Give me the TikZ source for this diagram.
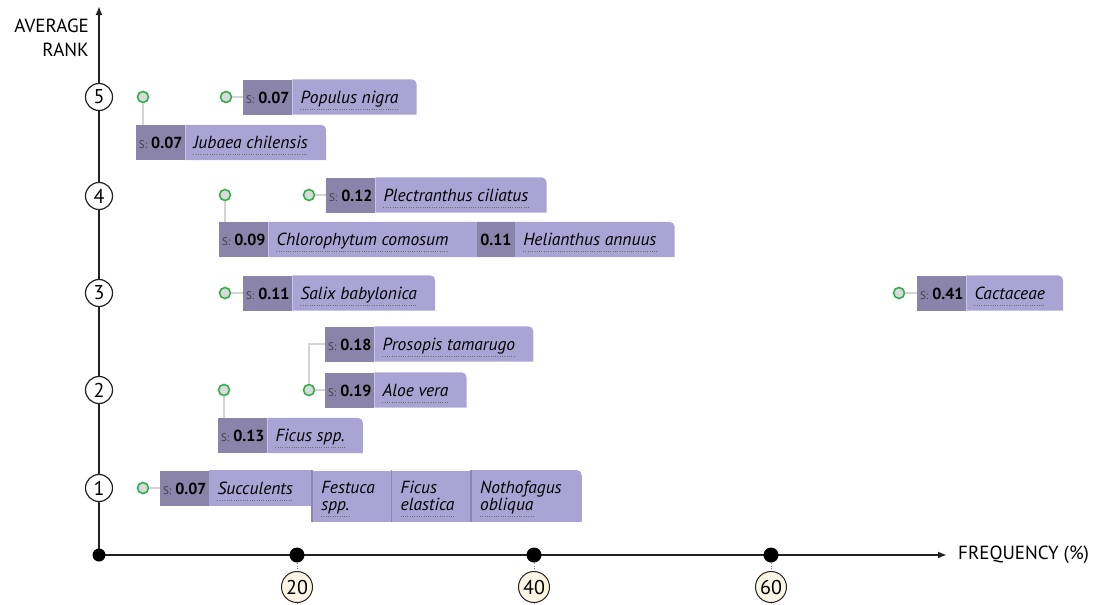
\documentclass[tikz,border=0pt]{standalone}
\usepackage{fontspec}
\setmainfont{PT Sans}
\usetikzlibrary{positioning,calc,backgrounds,arrows.meta}

\definecolor{valfill}{HTML}{8A84AA}
\definecolor{namefill}{HTML}{AAA4D4}
\definecolor{divline}{HTML}{8C86B4}
\definecolor{pingreen}{HTML}{2EAE4C}
\definecolor{pingray}{HTML}{DADADA}
\definecolor{linkgray}{HTML}{D4D4D4}
\definecolor{cream}{HTML}{FDF5E4}
\definecolor{dotgray}{HTML}{6E6E6E}
\definecolor{axisgray}{HTML}{222222}

\newcommand{\sval}[1]{{\fontsize{11}{11}\selectfont\mdseries\color{darkgray}S:}\hspace{4pt}#1}
% light part of a tag, top right corner rounded
\newcommand{\tagfill}[3]{\fill[namefill] (#1.south east) |- ($(#2.east |- #1.north)+(#3-5,0)$) arc[start angle=90,end angle=0,radius=5] |- (#1.south east) -- cycle;}

\begin{document}
\begin{tikzpicture}[x=1pt,y=1pt]
\tikzstyle{axisline} = [draw=axisgray, line width=1.8pt]
\tikzstyle{valbox} = [rectangle, fill=valfill, minimum width=49pt, minimum height=35pt, inner sep=0pt, text height=14pt, text depth=2pt, font=\fontsize{16}{16}\selectfont\bfseries]
\tikzstyle{namebox} = [rectangle, inner sep=0pt, text height=14pt, text depth=2pt, font=\fontsize{17.5}{17.5}\selectfont\itshape]
\tikzstyle{colbox} = [rectangle, fill=namefill, anchor=north west, minimum height=51pt, inner sep=0pt]
\tikzstyle{linetext} = [anchor=base west, inner sep=0pt, font=\fontsize{17.5}{17.5}\selectfont\itshape]
\tikzstyle{dotline} = [draw=dotgray, line width=0.8pt, dash pattern=on 1pt off 1.3pt]
\tikzstyle{pinmark} = [circle, draw=pingreen, fill=pingray, line width=1.6pt, minimum size=11pt, inner sep=0pt]
\tikzstyle{link} = [draw=linkgray, line width=2pt]
\tikzstyle{rank} = [circle, draw=axisgray, fill=white, line width=1.2pt, minimum size=27pt, inner sep=0pt, font=\fontsize{20}{20}\selectfont]
\tikzstyle{tickdot} = [circle, fill=black, minimum size=15pt, inner sep=0pt]
\tikzstyle{pct} = [circle, draw=axisgray, fill=cream, line width=1pt, minimum size=31pt, inner sep=0pt, font=\fontsize{20}{20}\selectfont]
\tikzstyle{tickline} = [draw=gray, dotted, line width=0.8pt]
\tikzstyle{divider} = [draw=divline, line width=1.5pt]

\useasboundingbox (0,0) rectangle (1101,-605);

% axes
\coordinate (O) at (99,-555);
\coordinate (ytop) at (99,-6);
\coordinate (xend) at (947,-555);
\draw[axisline,-{Latex[length=9pt,width=7pt]}] (O) -- (ytop);
\draw[axisline,-{Latex[length=9pt,width=7pt]}] (O) -- (xend);
\node[circle, fill=black, minimum size=13pt, inner sep=0pt] (o) at (O) {};
\node[align=right, anchor=north east, inner sep=0pt, font=\fontsize{19}{24}\selectfont] (ylab) at (89,-19) {AVERAGE\\RANK};
\node[anchor=base west, inner sep=0pt, font=\fontsize{19}{19}\selectfont] (xlab) at (958,-559) {FREQUENCY (\%)};

\foreach \r/\y in {1/488, 2/390, 3/293, 4/196, 5/97}
  \node[rank] (r\r) at (99,-\y) {\r};

\foreach \v/\x in {20/297, 40/534, 60/771} {
  \node[tickdot] (t\v) at (\x,-555) {};
  \node[pct] (p\v) at (\x,-587) {\v};
  \coordinate (e\v) at (\x,-605);
  \draw[tickline] (t\v) -- (p\v);
  \draw[tickline] (p\v) -- (e\v);
}

% rank 5
\node[valbox, anchor=west] (popv) at (243,-97) {\sval{0.07}};
\node[namebox, right=8pt of popv] (pop) {Populus nigra};
\node[valbox, anchor=west] (jubv) at (136,-142.5) {\sval{0.07}};
\node[namebox, right=8pt of jubv] (jub) {Jubaea chilensis};
\node[pinmark] (popp) at (226,-97) {};
\node[pinmark] (jubp) at (143,-97) {};
\draw[link] (popp) -- (popv.west);
\draw[link] (jubp) -- (jubp |- jubv.north);

% rank 4
\node[valbox, anchor=west] (plev) at (326,-195) {\sval{0.12}};
\node[namebox, right=8pt of plev] (ple) {Plectranthus ciliatus};
\node[valbox, anchor=west] (chlv) at (219,-239.5) {\sval{0.09}};
\node[namebox, right=8pt of chlv] (chl) {Chlorophytum comosum};
\node[valbox, minimum width=38pt, right=28pt of chl] (helv) {0.11};
\node[namebox, right=8pt of helv] (hel) {Helianthus annuus};
\node[pinmark] (plep) at (309,-195) {};
\node[pinmark] (chlp) at (225,-195) {};
\draw[link] (plep) -- (plev.west);
\draw[link] (chlp) -- (chlp |- chlv.north);

% rank 3
\node[valbox, anchor=west] (salv) at (243,-293) {\sval{0.11}};
\node[namebox, right=8pt of salv] (sal) {Salix babylonica};
\node[valbox, anchor=west] (cacv) at (917,-293) {\sval{0.41}};
\node[namebox, right=8pt of cacv] (cac) {Cactaceae};
\node[pinmark] (salp) at (225,-293) {};
\node[pinmark] (cacp) at (899,-293) {};
\draw[link] (salp) -- (salv.west);
\draw[link] (cacp) -- (cacv.west);

% rank 2
\node[valbox, anchor=west] (prov) at (325,-344) {\sval{0.18}};
\node[namebox, right=8pt of prov] (pro) {Prosopis tamarugo};
\node[valbox, anchor=west] (alov) at (325,-390) {\sval{0.19}};
\node[namebox, right=8pt of alov] (alo) {Aloe vera};
\node[valbox, anchor=west] (ficv) at (218,-435.5) {\sval{0.13}};
\node[namebox, right=8pt of ficv] (fic) {Ficus spp.};
\node[pinmark] (alop) at (309,-390) {};
\node[pinmark] (ficp) at (224,-390) {};
\draw[link] (alop) -- (alov.west);
\draw[link] (alop) |- (prov.west);
\draw[link] (ficp) -- (ficp |- ficv.north);

% rank 1
\node[valbox, anchor=west] (sucv) at (160,-488) {\sval{0.07}};
\node[namebox, right=8pt of sucv] (suc) {Succulents};
\node[colbox, minimum width=79pt] (fes) at ($(suc.east |- sucv.north)+(19,0)$) {};
\node[colbox, minimum width=79pt, right=0pt of fes] (fic2) {};
\node[colbox, minimum width=110pt, fill=none, right=0pt of fic2] (noth) {};
\foreach \c/\a/\b in {fes/Festuca/spp., fic2/Ficus/elastica, noth/Nothofagus/obliqua} {
  \node[linetext] (\c a) at ($(\c.north west)+(9,-23)$) {\a};
  \node[linetext] (\c b) at ($(\c.north west)+(9,-40)$) {\b};
  \draw[divider] (\c.north west) -- (\c.south west);
}
\node[pinmark] (sucp) at (143,-488) {};
\draw[link] (sucp) -- (sucv.west);

% dotted underlines
\foreach \n in {pop,jub,ple,chl,hel,sal,cac,pro,alo,fic,suc,fesb,fic2b,nothb}
  \draw[dotline] ([yshift=-6pt]\n.base west) -- ([yshift=-6pt]\n.base east);

\begin{scope}[on background layer]
\foreach \v/\n in {popv/pop, jubv/jub, plev/ple, chlv/hel, salv/sal, cacv/cac, prov/pro, alov/alo, ficv/fic}
  \tagfill{\v}{\n}{18}
\tagfill{fic2}{noth}{0}
\fill[namefill] (sucv.north east) rectangle (fes.west |- sucv.south);
\end{scope}
\end{tikzpicture}
\end{document}
